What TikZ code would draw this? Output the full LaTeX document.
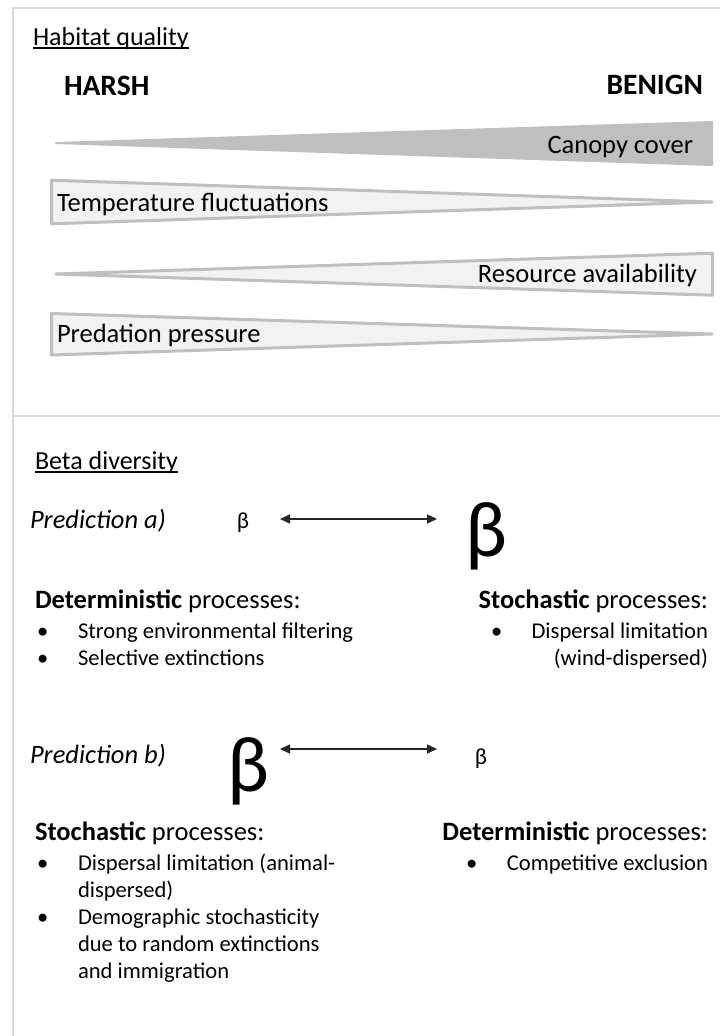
\documentclass[tikz,border=0pt]{standalone}
\usepackage{fontspec}
\setmainfont{Carlito}
\usetikzlibrary{arrows.meta}
\definecolor{framegray}{HTML}{D9D9D9}
\definecolor{wedgedark}{HTML}{BFBFBF}
\definecolor{wedgelight}{HTML}{F2F2F2}
\definecolor{arrowink}{HTML}{262626}
\begin{document}
\begin{tikzpicture}[x=1pt,y=-1pt,
  framel/.style={draw=framegray,line width=2pt},
  darkwedge/.style={fill=wedgedark,draw=wedgedark,line width=2pt,line join=round},
  lightwedge/.style={fill=wedgelight,draw=wedgedark,line width=3pt,line join=round},
  txt/.style={inner sep=0pt,outer sep=0pt,text=black},
  title/.style={txt,font=\fontsize{26}{31}\selectfont},
  pole/.style={txt,font=\fontsize{29.5}{35}\selectfont\bfseries},
  wlabel/.style={txt,font=\fontsize{26.5}{31}\selectfont},
  predlabel/.style={txt,font=\fontsize{26.5}{31}\selectfont\itshape},
  head/.style={txt,font=\fontsize{26.5}{31}\selectfont},
  bul/.style={txt,font=\fontsize{22.6}{27}\selectfont},
  bsmall/.style={txt,font=\fontsize{23}{27}\selectfont},
  bbig/.style={txt,font=\fontsize{79}{84}\selectfont},
  ul/.style={draw=black,line width=1.3pt},
  biarrow/.style={draw=arrowink,line width=1.5pt,{Triangle[length=10pt,width=9pt]}-{Triangle[length=10pt,width=9pt]}}
]
\useasboundingbox (0,0) rectangle (720,1036);
% frame
\draw[framel] (13,1036) -- (13,8) -- (720,8);
\draw[framel] (13,416) -- (720,416);

% upper panel
\node[title,anchor=base west] (hq) at (33,45) {Habitat quality};
\draw[ul] ([yshift=-3pt]hq.base west) -- ([yshift=-3pt]hq.base east);
\node[pole,anchor=base west] (harsh) at (64,95) {HARSH};
\node[pole,anchor=base east] (benign) at (703,94) {BENIGN};

\draw[darkwedge] (56,143) -- (712,122) -- (712,165) -- cycle;
\draw[lightwedge] (51.5,180.2) -- (712,202) -- (51.5,223.8) -- cycle;
\draw[lightwedge] (56,274) -- (712.5,253.2) -- (712.5,295.2) -- cycle;
\draw[lightwedge] (51.5,313.5) -- (712,334) -- (51.5,355) -- cycle;

\node[wlabel,anchor=base east] (canopy) at (693,153) {Canopy cover};
\node[wlabel,anchor=base west] (temp) at (57,211) {Temperature fluctuations};
\node[wlabel,anchor=base east] (res) at (697,282) {Resource availability};
\node[wlabel,anchor=base west] (pred) at (57,342) {Predation pressure};

% lower panel
\node[title,anchor=base west] (bd) at (35,469) {Beta diversity};
\draw[ul] ([yshift=-3pt]bd.base west) -- ([yshift=-3pt]bd.base east);

% prediction a
\node[predlabel,anchor=base west] (pa) at (30,528) {Prediction a)};
\node[bsmall,anchor=base] (ba1) at (243,528) {β};
\node[bbig,anchor=base] (ba2) at (486,556) {β};
\coordinate (a1l) at (280,519);
\coordinate (a1r) at (437,519);
\draw[biarrow] (a1l) -- (a1r);

\node[head,anchor=base west] (detA) at (35,608) {\textbf{Deterministic} processes:};
\node[bul,anchor=base west] (dA1d) at (37,638) {•};
\node[bul,anchor=base west] (dA1) at (78,638) {Strong environmental filtering};
\node[bul,anchor=base west] (dA2d) at (37,665) {•};
\node[bul,anchor=base west] (dA2) at (78,665) {Selective extinctions};

\node[head,anchor=base east] (stoA) at (708,608) {\textbf{Stochastic} processes:};
\node[bul,anchor=base west] (sA1d) at (491,638) {•};
\node[bul,anchor=base east] (sA1) at (708,638) {Dispersal limitation};
\node[bul,anchor=base east] (sA2) at (708,665) {(wind-dispersed)};

% prediction b
\node[predlabel,anchor=base west] (pb) at (30,763) {Prediction b)};
\node[bbig,anchor=base] (bb1) at (248,791) {β};
\node[bsmall,anchor=base] (bb2) at (481,764) {β};
\coordinate (b1l) at (280,749);
\coordinate (b1r) at (437,749);
\draw[biarrow] (b1l) -- (b1r);

\node[head,anchor=base west] (stoB) at (35,840) {\textbf{Stochastic} processes:};
\node[bul,anchor=base west] (sB1d) at (37,870) {•};
\node[bul,anchor=base west] (sB1) at (78,870) {Dispersal limitation (animal-};
\node[bul,anchor=base west] (sB1b) at (78,897) {dispersed)};
\node[bul,anchor=base west] (sB2d) at (37,924) {•};
\node[bul,anchor=base west] (sB2) at (78,924) {Demographic stochasticity};
\node[bul,anchor=base west] (sB2b) at (78,951) {due to random extinctions};
\node[bul,anchor=base west] (sB2c) at (78,978) {and immigration};

\node[head,anchor=base east] (detB) at (708,840) {\textbf{Deterministic} processes:};
\node[bul,anchor=base west] (dB1d) at (466,870) {•};
\node[bul,anchor=base east] (dB1) at (708,870) {Competitive exclusion};
\end{tikzpicture}
\end{document}
